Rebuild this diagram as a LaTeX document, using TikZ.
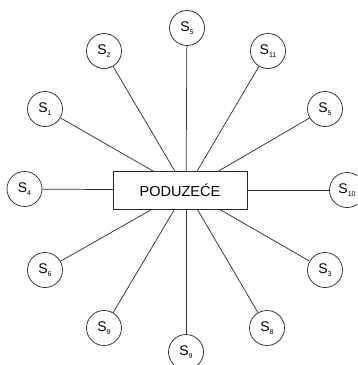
\documentclass[tikz,border=0pt]{standalone}
\usepackage{fontspec}
\setmainfont{Liberation Sans}
\newcommand{\sname}[1]{S{\fontsize{7}{7}\selectfont\raisebox{-2.5pt}{#1}}}
\begin{document}
\begin{tikzpicture}[x=1pt,y=-1pt,
  sat/.style={circle,draw=black!85,line width=0.7pt,minimum size=35pt,inner sep=0pt,fill=white,font=\fontsize{14}{14}\selectfont},
  link/.style={draw=black!80,line width=0.75pt},
  mainbox/.style={draw=black!85,line width=0.7pt,fill=white,minimum width=134pt,minimum height=38pt,inner sep=0pt,font=\fontsize{14.5}{14.5}\selectfont}]
\clip (0,0) rectangle (357,365);
\fill[white] (0,0) rectangle (357,365);
\coordinate (hub) at (186,190);
\node[sat] (s5a) at (187,28) {\sname{5}};
\node[sat] (s2) at (104,51) {\sname{2}};
\node[sat] (s1) at (45,109) {\sname{1}};
\node[sat] (s4) at (24.5,189) {\sname{4}};
\node[sat] (s6) at (45,270) {\sname{6}};
\node[sat] (s9a) at (104,328) {\sname{9}};
\node[sat] (s9b) at (186,352) {\sname{9}};
\node[sat] (s8) at (267,328) {\sname{8}};
\node[sat] (s3) at (325,270) {\sname{3}};
\node[sat] (s10) at (347,190) {\sname{10}};
\node[sat] (s5b) at (325,109) {\sname{5}};
\node[sat] (s11) at (268,51) {\sname{11}};
\foreach \n in {s5a,s2,s1,s4,s6,s9a,s9b,s8,s3,s10,s5b,s11}
  \draw[link] (\n) -- (hub);
\node[mainbox] (firm) at (180,190) {PODUZEĆE};
\end{tikzpicture}
\end{document}
